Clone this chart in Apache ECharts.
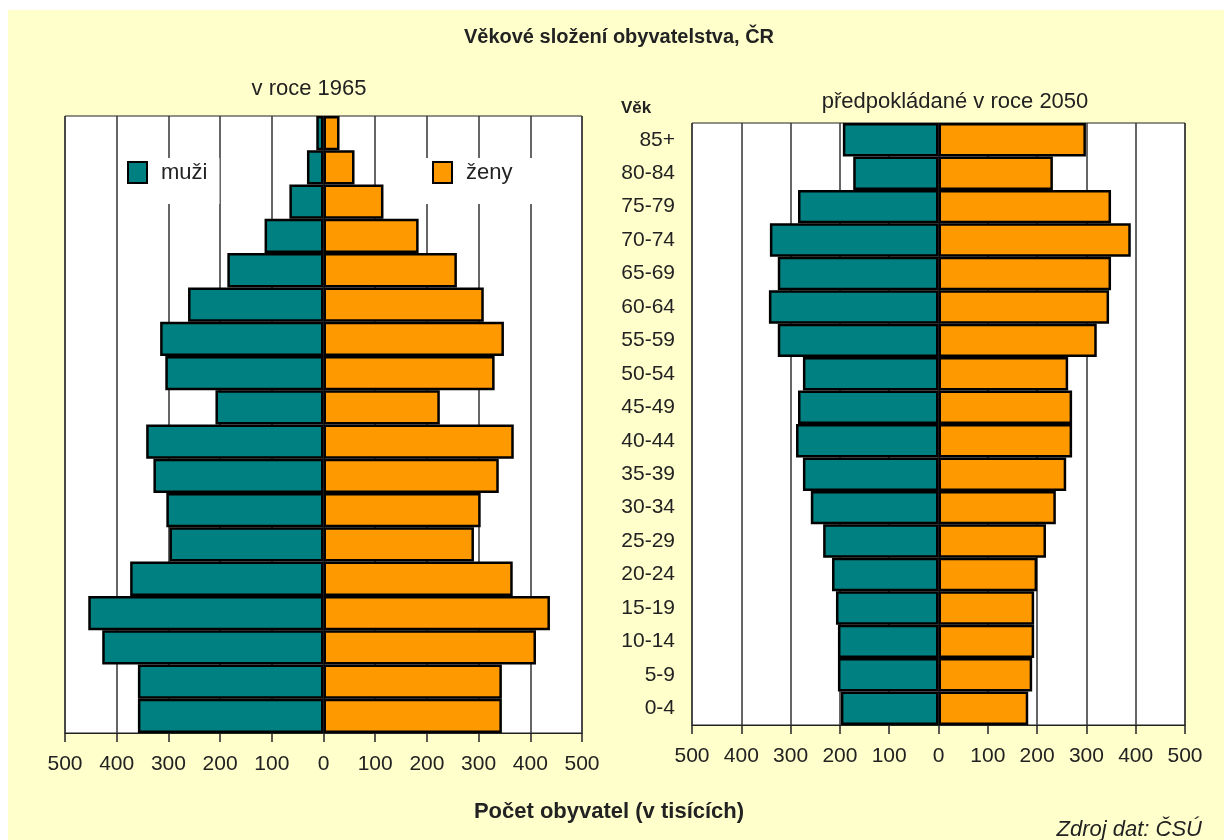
<!DOCTYPE html>
<html>
<head>
<meta charset="utf-8">
<script src="https://cdn.jsdelivr.net/npm/echarts@6/dist/echarts.min.js"></script>
<style>
  body { margin: 0; background: #fff; }
  #bg { position: absolute; left: 8px; top: 10px; width: 1216px; height: 830px; background: #ffffcc; }
  #chart { position: absolute; left: 0; top: 0; width: 1224px; height: 840px; }
</style>
</head>
<body>
<div id="bg"></div>
<div id="chart"></div>
<script>
  // age groups, bottom to top
  const ageGroups = ['0-4', '5-9', '10-14', '15-19', '20-24', '25-29', '30-34', '35-39', '40-44',
    '45-49', '50-54', '55-59', '60-64', '65-69', '70-74', '75-79', '80-84', '85+'];

  // 1965, thousands
  const men1965 = [359, 359, 428, 455, 374, 298, 304, 329, 343, 209, 306, 316, 262, 186, 114, 66, 32, 14];
  const women1965 = [345, 345, 411, 438, 366, 291, 304, 339, 368, 225, 331, 349, 310, 258, 184, 116, 60, 31];

  // 2050 projection, thousands
  const men2050 = [198, 204, 204, 208, 216, 234, 259, 275, 289, 285, 275, 326, 344, 326, 342, 285, 173, 194];
  const women2050 = [182, 190, 194, 194, 200, 218, 238, 259, 271, 271, 263, 321, 346, 350, 390, 350, 232, 299];

  const ticks = [-500, -400, -300, -200, -100, 0, 100, 200, 300, 400, 500];

  const MEN = 'muži';
  const WOMEN = 'ženy';
  const teal = '#008080';
  const orange = '#ff9900';
  const font = 'Arial, "Liberation Sans", sans-serif';

  const chart = echarts.init(document.getElementById('chart'));

  function xAxis(gridIndex) {
    return {
      type: 'value',
      gridIndex: gridIndex,
      min: ticks[0],
      max: ticks[ticks.length - 1],
      interval: 100,
      axisLine: { show: true, lineStyle: { color: '#222', width: 1 } },
      axisTick: { show: true, length: 9, lineStyle: { color: '#222', width: 1.5 } },
      axisLabel: {
        margin: 21,
        fontSize: 21,
        fontFamily: font,
        color: '#222',
        formatter: v => String(Math.abs(v))
      },
      splitLine: { show: true, lineStyle: { color: '#333', width: 1.5 } }
    };
  }

  function yAxis(gridIndex, labels) {
    return {
      type: 'category',
      gridIndex: gridIndex,
      data: ageGroups,
      axisLine: { show: false },
      axisTick: { show: false },
      axisLabel: {
        show: labels,
        fontSize: 21,
        fontFamily: font,
        color: '#222',
        margin: 17
      }
    };
  }

  function bars(name, values, idx, color, sign) {
    return {
      name: name,
      type: 'bar',
      xAxisIndex: idx,
      yAxisIndex: idx,
      data: values.map(v => sign * v),
      barGap: '-100%',
      barCategoryGap: 0,
      itemStyle: { color: color, borderColor: '#000', borderWidth: 2.5 },
      emphasis: { disabled: true }
    };
  }

  const legendBase = {
    icon: 'rect',
    itemWidth: 19,
    itemHeight: 21,
    backgroundColor: '#fff',
    selectedMode: false,
    textStyle: { fontSize: 22, fontFamily: font, color: '#222', padding: [0, 0, 0, 9] }
  };

  chart.setOption({
    animation: false,
    title: [
      {
        text: 'Věkové složení obyvatelstva, ČR',
        left: 614, top: 22, textAlign: 'center',
        textStyle: { fontSize: 20, fontWeight: 'bold', fontFamily: font, color: '#222' }
      },
      {
        text: 'v roce 1965',
        left: 304, top: 73, textAlign: 'center',
        textStyle: { fontSize: 22, fontWeight: 'normal', fontFamily: font, color: '#222' }
      },
      {
        text: 'předpokládané v roce 2050',
        left: 950, top: 86, textAlign: 'center',
        textStyle: { fontSize: 22, fontWeight: 'normal', fontFamily: font, color: '#222' }
      },
      {
        text: 'Věk',
        left: 616, top: 95,
        textStyle: { fontSize: 17, fontWeight: 'bold', fontFamily: font, color: '#222' }
      },
      {
        text: 'Počet obyvatel (v tisících)',
        left: 604, top: 796, textAlign: 'center',
        textStyle: { fontSize: 22, fontWeight: 'bold', fontFamily: font, color: '#222' }
      },
      {
        text: 'Zdroj dat: ČSÚ',
        left: 1197, top: 814, textAlign: 'right',
        textStyle: { fontSize: 22, fontWeight: 'normal', fontStyle: 'italic', fontFamily: font, color: '#222' }
      }
    ],
    legend: [
      Object.assign({}, legendBase, { data: [MEN], left: 120, top: 158, padding: [3, 12, 20, 7] }),
      Object.assign({}, legendBase, { data: [WOMEN], left: 426, top: 158, padding: [3, 22, 20, 6] })
    ],
    grid: [
      { left: 65, right: 642, top: 116, bottom: 107, show: true, backgroundColor: '#fff', borderColor: '#222', borderWidth: 1 },
      { left: 692, right: 39, top: 123, bottom: 115, show: true, backgroundColor: '#fff', borderColor: '#222', borderWidth: 1 }
    ],
    xAxis: [xAxis(0), xAxis(1)],
    yAxis: [yAxis(0, false), yAxis(1, true)],
    series: [
      bars(MEN, men1965, 0, teal, -1),
      bars(WOMEN, women1965, 0, orange, 1),
      bars(MEN, men2050, 1, teal, -1),
      bars(WOMEN, women2050, 1, orange, 1)
    ]
  });
</script>
</body>
</html>
